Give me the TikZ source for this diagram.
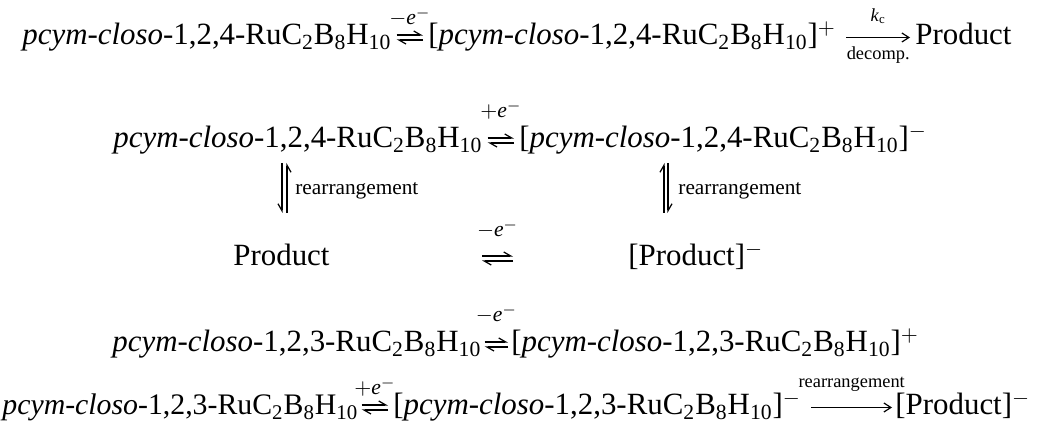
\documentclass[tikz,border=0pt]{standalone}
\usepackage{fontspec}
\setmainfont{Liberation Serif}
\usetikzlibrary{arrows.meta,calc}
\newcommand{\cmpd}[1]{\textit{pcym-closo}-1,2,#1-RuC\textsubscript{2}B\textsubscript{8}H\textsubscript{10}}
\newcommand{\elab}[1]{$#1$\textit{e}\textsuperscript{$-$}}
\tikzset{
  txt/.style={anchor=base west, inner sep=0pt, font=\fontsize{15.45}{18}\selectfont},
  txtn/.style={anchor=base west, inner sep=0pt, font=\fontsize{14.9}{18}\selectfont},
  lbl/.style={anchor=base, inner sep=0pt, font=\fontsize{10.8}{12}\selectfont},
  slbl/.style={anchor=base, inner sep=0pt, font=\fontsize{9.2}{11}\selectfont},
  vlbl/.style={anchor=base west, inner sep=0pt, font=\fontsize{10.65}{12}\selectfont},
  hp/.style={line width=0.6pt, -{Straight Barb[harpoon,length=3.5pt,width=4pt]}},
  hps/.style={line width=0.6pt, -{Straight Barb[harpoon,swap,length=3.5pt,width=4pt]}},
  rarr/.style={line width=0.6pt, -{Straight Barb[length=3.5pt,width=4.5pt]}},
}
% double harpoon between two points (px coords): #1 left point, #2 right point, #3 label, #4 label raise (px)
\newcommand{\eqharp}[4]{%
  \draw[hp] ($#1+(0,-2.5)$) -- node[lbl, yshift=#4*0.5pt]{#3} ($#2+(0,-2.5)$);
  \draw[hp] ($#2+(0,2.5)$) -- ($#1+(0,2.5)$);
}
\begin{document}
\begin{tikzpicture}[x=0.5pt, y=-0.5pt]
\useasboundingbox (0,0) rectangle (1039,432);
% line 1
\node[txt] (a1) at (22,45) {\cmpd{4}};
\node[txt] (b1) at (428,45) {[\cmpd{4}]$^{+}$};
\node[txt] (p1) at (915,45) {Product};
\eqharp{(a1.base east)+(5,-7.5)}{(b1.base west)+(-5,-7.5)}{\elab{-}}{10}
\draw[rarr] ($(b1.base east)+(10,-7.5)$) -- node[slbl, yshift=7.75pt]{\textit{k}\textsubscript{c}} node[slbl, yshift=-11.25pt]{decomp.} ($(p1.base west)+(-5,-7.5)$);
% line 2
\node[txt] (a2) at (113,148) {\cmpd{4}};
\node[txt] (b2) at (519,148) {[\cmpd{4}]$^{-}$};
\eqharp{(a2.base east)+(5,-7.5)}{(b2.base west)+(-5,-7.5)}{\elab{+}}{20}
% line 3
\node[txt] (p3) at (233,266) {Product};
\node[txt] (q3) at (628,266) {[Product]$^{-}$};
\coordinate (h3l) at (482,258.5);
\coordinate (h3r) at (513,258.5);
\eqharp{(h3l)}{(h3r)}{\elab{-}}{19}
% vertical rearrangements
\coordinate (v1t) at ($(a2.base west)+(169,15)$);
\coordinate (v1b) at ($(p3.base west)+(49,-53)$);
\draw[hps] ($(v1t)+(0,0)$) -- ($(v1b)+(0,0)$);
\draw[hps] ($(v1b)+(5,0)$) -- ($(v1t)+(5,0)$);
\node[vlbl] (r1) at ($(v1t)+(13,32)$) {rearrangement};
\coordinate (v2t) at ($(b2.base west)+(145,15)$);
\coordinate (v2b) at ($(q3.base west)+(36,-53)$);
\draw[hp] ($(v2b)+(0,0)$) -- ($(v2t)+(0,0)$);
\draw[hp] ($(v2t)+(4,0)$) -- ($(v2b)+(4,0)$);
\node[vlbl] (r2) at ($(v2t)+(14,32)$) {rearrangement};
% line 4
\node[txt] (a4) at (112,352) {\cmpd{3}};
\node[txt] (b4) at (511,352) {[\cmpd{3}]$^{+}$};
\eqharp{(a4.base east)+(3,-7.5)}{(b4.base west)+(-3,-7.5)}{\elab{-}}{20}
% line 5
\node[txtn] (a5) at (2,415) {\cmpd{3}};
\node[txt] (b5) at (393,415) {[\cmpd{3}]$^{-}$};
\node[txt] (p5) at (895,415) {[Product]$^{-}$};
\eqharp{(a5.base east)+(3,-7.5)}{(b5.base west)+(-5,-7.5)}{\elab{+}}{10}
\draw[rarr] ($(b5.base east)+(10,-7.5)$) -- node[slbl, yshift=10pt]{rearrangement} ($(p5.base west)+(-3,-7.5)$);
\end{tikzpicture}
\end{document}
